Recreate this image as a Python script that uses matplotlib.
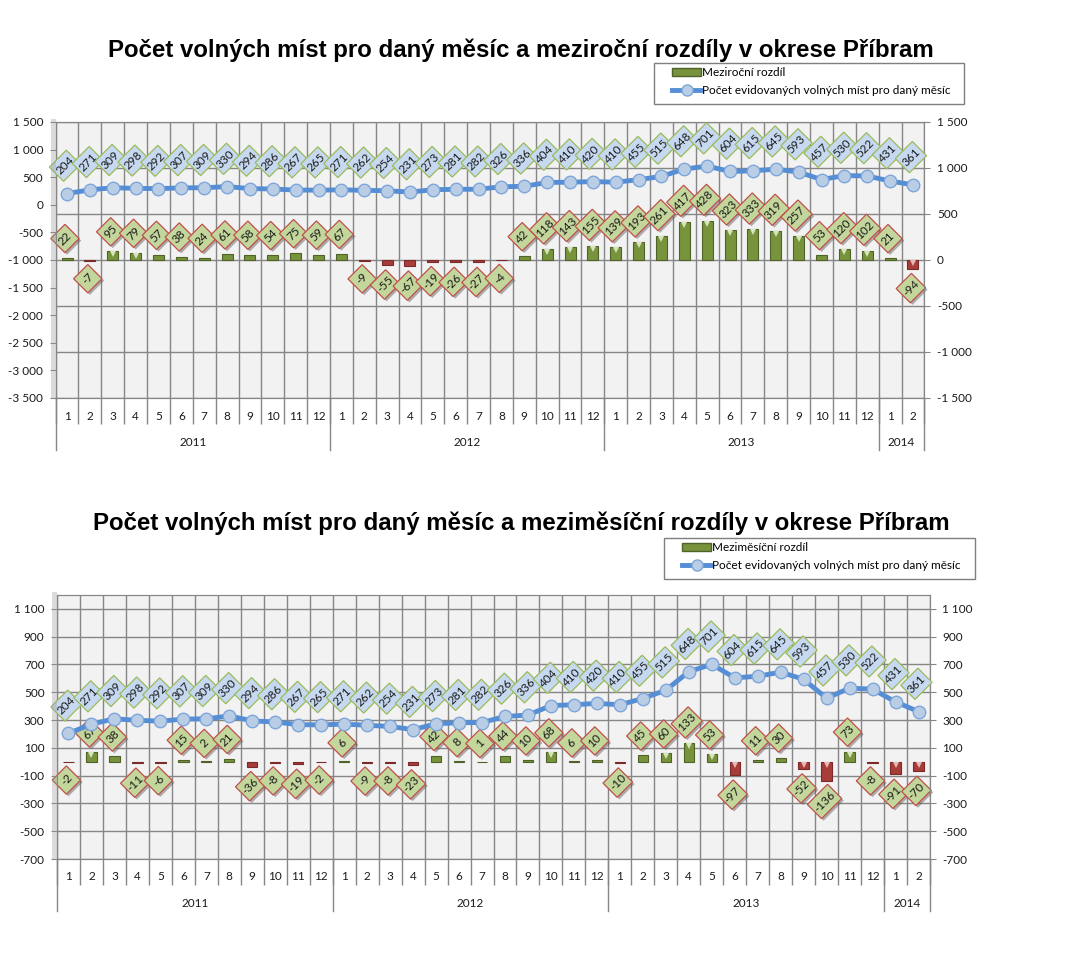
import numpy as np
import matplotlib
matplotlib.use('Agg')
import matplotlib.pyplot as plt
import matplotlib.patheffects as pe
from matplotlib.patches import Patch, Rectangle
from matplotlib.lines import Line2D
from matplotlib.path import Path
from matplotlib.ticker import FuncFormatter
from matplotlib.transforms import offset_copy

plt.rcParams['font.family'] = ['Lato', 'DejaVu Sans']

# data
mesice = list(range(1, 13)) * 3 + [1, 2]
roky = ['2011', '2012', '2013', '2014']
mesicu_v_roce = [12, 12, 12, 2]

volna_mista = [204, 271, 309, 298, 292, 307, 309, 330, 294, 286, 267, 265,
               271, 262, 254, 231, 273, 281, 282, 326, 336, 404, 410, 420,
               410, 455, 515, 648, 701, 604, 615, 645, 593, 457, 530, 522,
               431, 361]
mezirocni = [22, -7, 95, 79, 57, 38, 24, 61, 58, 54, 75, 59,
             67, -9, -55, -67, -19, -26, -27, -4, 42, 118, 143, 155,
             139, 193, 261, 417, 428, 323, 333, 319, 257, 53, 120, 102,
             21, -94]
mezimesicni = [-2, 67, 38, -11, -6, 15, 2, 21, -36, -8, -19, -2,
               6, -9, -8, -23, 42, 8, 1, 44, 10, 68, 6, 10,
               -10, 45, 60, 133, 53, -97, 11, 30, -52, -136, 73, -8,
               -91, -70]

W, H = 1070, 964
fig = plt.figure(figsize=(W / 100, H / 100), dpi=100)
fig.patch.set_facecolor('white')

seda = '#868686'
zelena, zelena_okraj, zelena_svetla = '#77933C', '#4F6228', '#D7E4BD'
cervena, cervena_okraj, cervena_svetla = '#A83C39', '#7A2A28', '#E6B9B8'
modra, modra_bod, modra_okraj = '#558ED5', '#B9CDE5', '#7FA6DA'


def fmt(v, pos):
    return f'{int(round(v)):,}'.replace(',', ' ')


# label box: fixed height, width at least the height -> a diamond after 45 deg rotation
def stitek(x0, y0, width, height, mutation_size):
    vy = 1.7 * mutation_size
    sx = max(width + 0.3 * mutation_size, vy)
    cx, cy = x0 + width / 2, y0 + height / 2
    a, b = cx - sx / 2, cx + sx / 2
    c, d = cy - vy / 2, cy + vy / 2
    return Path([(a, c), (b, c), (b, d), (a, d), (a, c)], closed=True)


def panel(px, diff, diff_lim, diff_ticks, line_lim, line_ticks, title, title_y,
          leg_label, leg_px, bar_w):
    x0, y0, x1, y1 = px  # pixel box of the plot area (top-left origin)
    ax_h = y1 - y0
    # shadow at the left edge
    fig.patches.append(Rectangle(((x0 - 5) / W, 1 - y1 / H), 5 / W, (y1 - y0 + 3) / H,
                                 transform=fig.transFigure, color='#9a9a9a', alpha=0.35, lw=0))
    ax = fig.add_axes([x0 / W, 1 - y1 / H, (x1 - x0) / W, ax_h / H])
    ax2 = ax.twinx()
    n = len(diff)
    x = np.arange(n)

    ax.set_facecolor('#F2F2F2')
    ax.set_xlim(-0.5, n - 0.5)
    ax.set_ylim(*diff_lim)
    ax.set_yticks(diff_ticks)
    ax.set_xticks(np.arange(-0.5, n))
    ax.set_xticklabels([])
    ax.grid(True, color=seda, lw=1)
    ax.set_axisbelow(True)
    ax.yaxis.tick_right()
    ax.yaxis.set_major_formatter(FuncFormatter(fmt))
    ax.tick_params(axis='x', length=19, color=seda, width=1)
    ax.tick_params(axis='y', length=4, color=seda, labelsize=8.5, pad=5, labelcolor='#1a1a1a')
    for s in ax.spines.values():
        s.set_color(seda)
    for s in ax2.spines.values():
        s.set_color(seda)

    ax2.set_ylim(*line_lim)
    ax2.set_yticks(line_ticks)
    ax2.yaxis.tick_left()
    ax2.yaxis.set_major_formatter(FuncFormatter(fmt))
    ax2.tick_params(axis='y', length=4, color=seda, labelsize=8.5, pad=5, labelcolor='#1a1a1a')

    # bars
    barvy = [zelena if v >= 0 else cervena for v in diff]
    okraje = [zelena_okraj if v >= 0 else cervena_okraj for v in diff]
    ax.bar(x, diff, width=bar_w, color=barvy, edgecolor=okraje, lw=0.8, zorder=3)
    px_per = ax_h / (diff_lim[1] - diff_lim[0])
    tr = offset_copy(ax.transData, fig=fig, x=0, y=-3, units='dots')
    for i, v in enumerate(diff):
        if abs(v) * px_per > 7:
            ax.plot(i, max(v, 0), marker='v', ms=5, mew=0,
                    color=zelena_svetla if v >= 0 else cervena_svetla, transform=tr, zorder=4)
        s = str(v)
        dy = 14 + 1.0 * (len(s.lstrip('-')) - 2)
        t = ax.annotate(s, (i, v), xytext=(-1.5, dy if v >= 0 else -dy),
                        textcoords='offset points', rotation=45, ha='center', va='center',
                        fontsize=8.5, color='#1a1a1a', zorder=6,
                        bbox=dict(boxstyle=stitek, fc='#C3D69B', ec='#C0504D', lw=0.9))
        t.get_bbox_patch().set_path_effects([
            pe.SimplePatchShadow(offset=(1.5, -1.5), shadow_rgbFace='#555555', alpha=0.45),
            pe.Normal()])

    # line
    ax2.plot(x, volna_mista, color=modra, lw=3.5, marker='o', ms=9,
             mfc=modra_bod, mec=modra_okraj, mew=1, zorder=4)
    for i, v in enumerate(volna_mista):
        ax2.annotate(str(v), (i, v), xytext=(-1.5, 20),
                     textcoords='offset points', rotation=45, ha='center', va='center',
                     fontsize=8.5, color='#1a1a1a', zorder=6,
                     bbox=dict(boxstyle=stitek, fc='#C6D9F1', ec='#9BBB59', lw=0.9))

    # two-level category axis
    tx = ax.get_xaxis_transform()
    for i, m in enumerate(mesice):
        ax.text(i, -18 / ax_h, str(m), transform=tx, ha='center', va='center',
                fontsize=8.5, color='#1a1a1a')
    hranice = np.concatenate([[0], np.cumsum(mesicu_v_roce)]) - 0.5
    for b in hranice:
        ax.add_line(Line2D([b, b], [0, -52 / ax_h], transform=tx, color=seda,
                           lw=1, clip_on=False))
    for r, a, b in zip(roky, hranice[:-1], hranice[1:]):
        ax.text((a + b) / 2, -44 / ax_h, r, transform=tx, ha='center', va='center',
                fontsize=8.5, color='#1a1a1a')

    fig.text(521 / W, 1 - title_y / H, title, ha='center', va='center',
             fontsize=17.3, fontweight='bold', family='Liberation Sans')

    # legend with its own frame
    lx0, ly0, lx1, ly1 = leg_px
    fig.patches.append(Rectangle((lx0 / W, 1 - ly1 / H), (lx1 - lx0) / W, (ly1 - ly0) / H,
                                 transform=fig.transFigure, fc='white', ec='#7f7f7f', lw=1))
    handles = [Patch(fc=zelena, ec=zelena_okraj),
               Line2D([], [], color=modra, lw=3.5, marker='o', ms=8,
                      mfc=modra_bod, mec=modra_okraj)]
    fig.legend(handles, [leg_label, 'Počet evidovaných volných míst pro daný měsíc'],
               loc='upper left', bbox_to_anchor=((lx0 + 16) / W, 1 - (ly0 + 2) / H),
               frameon=False, fontsize=8.5, handlelength=2.4, handleheight=0.6,
               handletextpad=0.15, labelspacing=0.55, borderpad=0.2, borderaxespad=0)
    return ax, ax2


panel((55.6, 122, 924.4, 398), mezirocni, (-1500, 1500), np.arange(-1500, 1501, 500),
      (-3500, 1500), np.arange(-3500, 1501, 500),
      'Počet volných míst pro daný měsíc a meziroční rozdíly v okrese Příbram', 50,
      'Meziroční rozdíl', (654, 63, 964, 104), 0.48)

panel((57, 595, 930, 859), mezimesicni, (-700, 1200), np.arange(-700, 1101, 200),
      (-700, 1200), np.arange(-700, 1101, 200),
      'Počet volných míst pro daný měsíc a meziměsíční rozdíly v okrese Příbram', 523,
      'Meziměsíční rozdíl', (664, 538, 975, 579), 0.45)

plt.savefig('out.png', dpi=100)
